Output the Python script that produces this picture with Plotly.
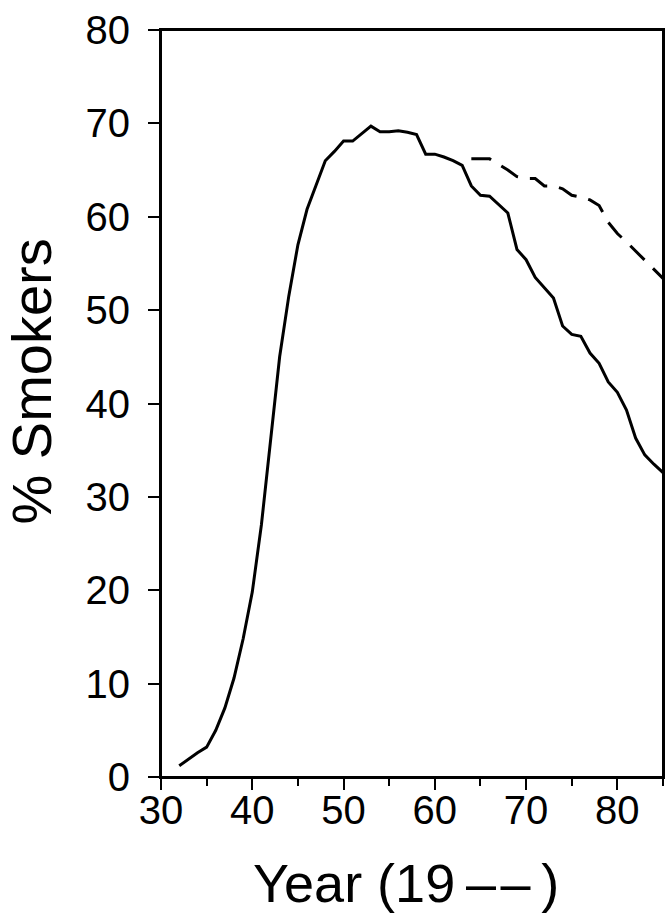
import plotly.graph_objects as go

# Observed share of smokers (solid line)
years_obs = [32, 33, 34, 35, 36, 37, 38, 39, 40, 41, 42, 43, 44, 45, 46, 47, 48, 49,
             50, 51, 52, 53, 54, 55, 56, 57, 58, 59, 60, 61, 62, 63, 64, 65, 66, 67,
             68, 69, 70, 71, 72, 73, 74, 75, 76, 77, 78, 79, 80, 81, 82, 83, 84, 85]
pct_obs = [1.2, 1.9, 2.6, 3.2, 5.0, 7.4, 10.6, 14.8, 19.8, 27.0, 35.8, 45.0, 51.5, 57.0,
           60.8, 63.5, 66.0, 67.0, 68.1, 68.1, 68.9, 69.7, 69.1, 69.1, 69.2, 69.05, 68.8,
           66.7, 66.7, 66.4, 66.0, 65.5, 63.3, 62.3, 62.2, 61.3, 60.4, 56.5, 55.4, 53.5,
           52.4, 51.3, 48.3, 47.4, 47.2, 45.4, 44.3, 42.3, 41.2, 39.3, 36.3, 34.5, 33.5, 32.6]

# Projected share (dashed line)
years_proj = [64, 65, 66, 67, 68, 69, 70, 71, 72, 73, 74, 75, 76, 77, 78, 79, 80, 81, 82, 83, 84, 85]
pct_proj = [66.2, 66.2, 66.2, 65.6, 65.0, 64.3, 64.1, 64.1, 63.3, 63.3, 63.0, 62.3, 62.1,
            61.8, 61.2, 59.4, 58.2, 57.3, 56.3, 55.3, 54.3, 53.4]

x_ticks = [30, 40, 50, 60, 70, 80]
y_ticks = [0, 10, 20, 30, 40, 50, 60, 70, 80]
x_title = "Year (19\u2009\u2013\u200a\u2013\u2009)"
y_title = "% Smokers"

FONT = "Liberation Sans, Arial, sans-serif"

fig = go.Figure()
fig.add_trace(go.Scatter(x=years_obs, y=pct_obs, mode="lines",
                         line=dict(color="black", width=3), showlegend=False))
fig.add_trace(go.Scatter(x=years_proj, y=pct_proj, mode="lines",
                         line=dict(color="black", width=3, dash="20px,12px"),
                         showlegend=False))

axis_common = dict(showline=True, linecolor="black", linewidth=2, mirror=True,
                   ticks="outside", ticklen=11, tickwidth=2, tickcolor="black",
                   showgrid=False, zeroline=False,
                   tickfont=dict(family=FONT, size=40, color="black"))

fig.update_xaxes(range=[30, 85], tickvals=x_ticks, ticktext=[str(v) for v in x_ticks],
                 minor=dict(dtick=5, tick0=30, ticks="outside", ticklen=7, tickwidth=2,
                            tickcolor="black", showgrid=False),
                 ticklabelstandoff=-14, **axis_common)
fig.update_yaxes(range=[0, 80], tickvals=y_ticks, ticktext=[str(v) for v in y_ticks],
                 ticklabelstandoff=10, **axis_common)

# full frame around the plotting area
fig.add_shape(type="rect", xref="paper", yref="paper", x0=0, x1=1, y0=0, y1=1,
              line=dict(color="black", width=2), fillcolor="rgba(0,0,0,0)", layer="above")

fig.add_annotation(text=y_title, textangle=-90, xref="paper", yref="paper",
                   x=-0.258, y=0.53, xanchor="center", yanchor="middle", height=52,
                   borderpad=0, showarrow=False,
                   font=dict(family=FONT, size=56, color="black"))
fig.add_annotation(text=x_title, xref="paper", yref="paper",
                   x=0.489, y=-0.142, xanchor="center", yanchor="middle",
                   showarrow=False, font=dict(family=FONT, size=54, color="black"))

fig.update_layout(width=670, height=913, plot_bgcolor="white", paper_bgcolor="white",
                  margin=dict(l=161, r=5, t=30, b=136))

# remove the default 8px page margin and scrollbars so the 670x913 figure fills the window
fig.write_html("out.html", config={"displayModeBar": False},
               post_script="document.documentElement.style.overflow='hidden';"
                           "document.body.style.overflow='hidden';"
                           "document.body.style.margin='0';"
                           "document.body.style.padding='0';")
